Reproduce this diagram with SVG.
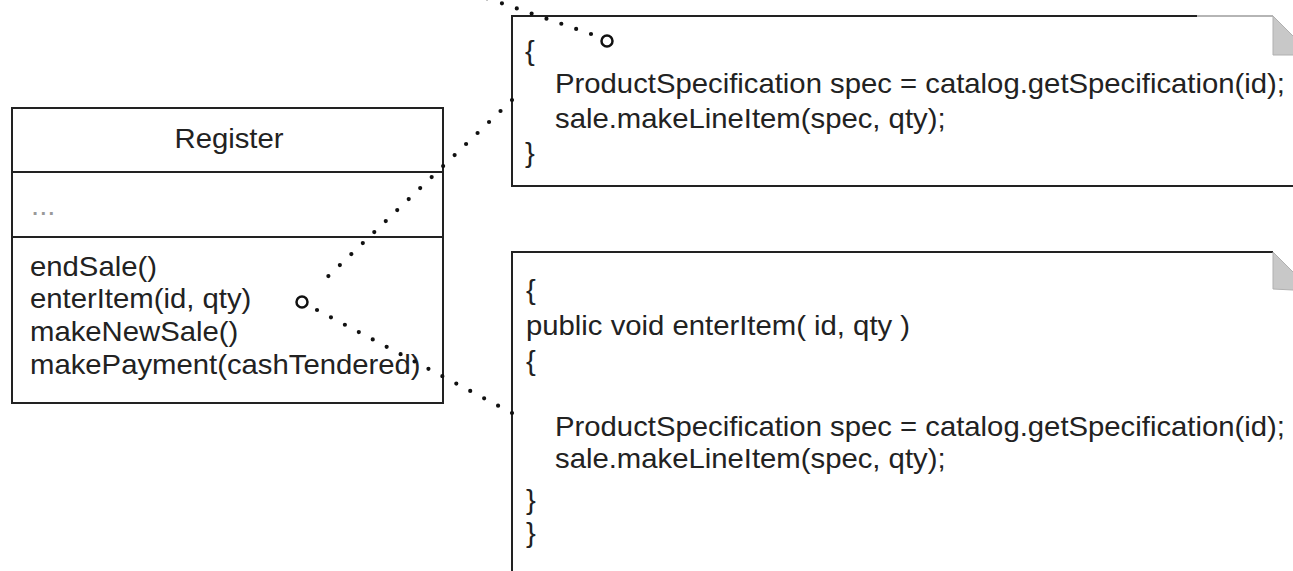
<svg xmlns="http://www.w3.org/2000/svg" width="1293" height="571" viewBox="0 0 1293 571">
  <style>
    .t { font-family: "Liberation Sans", Arial, sans-serif; font-size: 27px; fill: #222; }
    .box { fill: #fff; stroke: #222; stroke-width: 2; }
    .edge { fill: none; stroke: #222; stroke-width: 2; }
    .fold { fill: #c8c8c8; stroke: #b0b0b0; stroke-width: 1; }
    .dots { fill: none; stroke: #111; stroke-width: 4.2; stroke-linecap: round; }
    .end { fill: #fff; stroke: #111; stroke-width: 2.5; }
  </style>
  <rect width="1293" height="571" fill="#fff"/>

  <g id="register">
    <rect class="box" x="12" y="108" width="431" height="295"/>
    <line class="edge" x1="12" y1="172" x2="443" y2="172"/>
    <line class="edge" x1="12" y1="237" x2="443" y2="237"/>
    <text class="t" text-anchor="middle" transform="translate(229 148) scale(1.085 1)">Register</text>
    <text class="t" style="fill:#999" transform="translate(31 215) scale(1.085 1)">...</text>
    <text class="t" transform="translate(30 276) scale(1.085 1)">endSale()</text>
    <text class="t" transform="translate(30 308) scale(1.085 1)">enterItem(id, qty)</text>
    <text class="t" transform="translate(30 341) scale(1.085 1)">makeNewSale()</text>
    <text class="t" transform="translate(30 374) scale(1.085 1)">makePayment(cashTendered)</text>
  </g>

  <g id="note-top">
    <path d="M512 16 L1273 16 L1312 55 L1312 186 L512 186 Z" fill="#fff" stroke="none"/>
    <path class="edge" d="M1197 16 L512 16 L512 186 L1312 186"/>
    <line x1="1197" y1="16" x2="1273" y2="16" stroke="#b5b5b5" stroke-width="2"/>
    <path class="fold" d="M1273 16 L1312 55 L1273 55 Z"/>
    <text class="t" transform="translate(525 60) scale(1.085 1)">{</text>
    <text class="t" transform="translate(555 93) scale(1.085 1)">ProductSpecification spec = catalog.getSpecification(id);</text>
    <text class="t" transform="translate(555 128) scale(1.085 1)">sale.makeLineItem(spec, qty);</text>
    <text class="t" transform="translate(525 162) scale(1.085 1)">}</text>
  </g>

  <g id="note-bottom">
    <path d="M512 252 L1273 252 L1312 291 L1312 580 L512 580 Z" fill="#fff" stroke="none"/>
    <path class="edge" d="M512 580 L512 252 L1273 252"/>
    <path class="fold" d="M1273 252 L1312 291 L1273 289 Z"/>
    <text class="t" transform="translate(526 299) scale(1.085 1)">{</text>
    <text class="t" transform="translate(526 335) scale(1.085 1)">public void enterItem( id, qty )</text>
    <text class="t" transform="translate(526 370) scale(1.085 1)">{</text>
    <text class="t" transform="translate(555 436) scale(1.085 1)">ProductSpecification spec = catalog.getSpecification(id);</text>
    <text class="t" transform="translate(555 468) scale(1.085 1)">sale.makeLineItem(spec, qty);</text>
    <text class="t" transform="translate(526 509) scale(1.085 1)">}</text>
    <text class="t" transform="translate(526 542) scale(1.085 1)">}</text>
  </g>

  <g id="connectors">
    <path class="dots" d="M591 34 L472 -7" stroke-dasharray="0 15.7"/>
    <circle class="end" cx="607" cy="41" r="5.5"/>
    <path class="dots" d="M512 100 L317 287" stroke-dasharray="0 15.9"/>
    <path class="dots" d="M512 413 L317 310" stroke-dasharray="0 15.75"/>
    <circle class="end" cx="302" cy="302" r="5.5"/>
  </g>
</svg>
